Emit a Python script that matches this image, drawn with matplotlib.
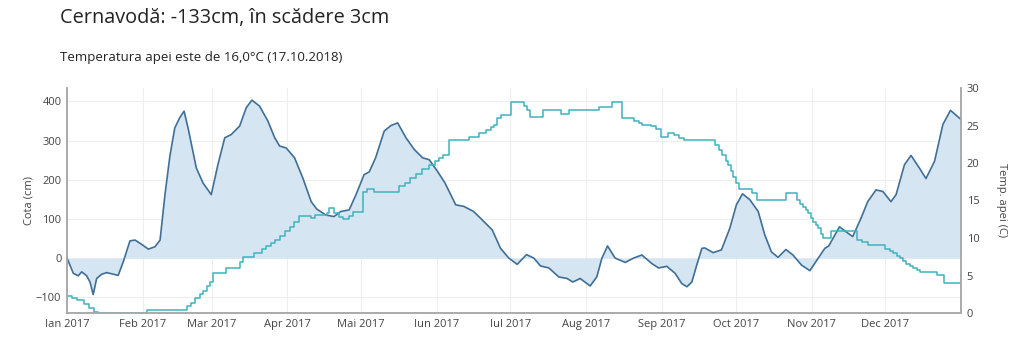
import pandas as pd
import matplotlib
matplotlib.use('Agg')
import matplotlib.pyplot as plt
import matplotlib.dates as mdates

plt.rcParams['font.family'] = ['Open Sans', 'DejaVu Sans']

# days since 1 Jan 2017 and water level (cm)
level_days = [0, 2.6, 4.6, 6, 8, 9.4, 10.7, 12.1, 14.2, 16.2, 18.9, 20.9, 23, 25.7, 27.8,
              30.5, 33.2, 35.9, 38, 40, 42, 44, 46, 47.8, 49.5, 52.8, 55.5, 58.9, 61.6,
              64.4, 67, 70.5, 73.2, 75.5, 78.6, 82, 84.8, 86.8, 89.5, 92.9, 96.3, 99.7,
              102, 105.7, 109, 111.8, 115.2, 118, 121.3, 123.4, 126, 129.5, 132.2, 135,
              138.4, 141.8, 145.2, 147.9, 151.3, 154.3, 158.7, 162, 166, 168.8, 173.6,
              177, 180.4, 183.8, 187.6, 190.6, 193.3, 196.7, 200.8, 204.2, 206.5, 209.5,
              213.6, 216.3, 218.4, 220.7, 223.8, 227.9, 231.3, 234.7, 238.8, 241.5,
              244.9, 248.3, 251, 253.1, 255.1, 257.1, 259.2, 260.4, 263.8, 267.2, 270.6,
              273.3, 275.8, 278.8, 282.2, 284.9, 287.6, 290.3, 293.5, 296.4, 299.9,
              303.3, 306.7, 309.4, 311, 315.4, 318.1, 320.8, 324.2, 326.9, 330.3, 333.1,
              336.4, 338.5, 341.9, 344.6, 348, 350.7, 354.2, 357.6, 360.7, 362.9, 365]
level_cm = [0, -39, -45, -35, -45, -61, -93, -52, -41, -37, -41, -44, -9, 44, 46,
            35, 23, 29, 46, 162, 260, 332, 358, 375, 330, 230, 192, 162, 238,
            307, 315, 337, 384, 403, 388, 350, 307, 286, 281, 256, 204, 144,
            125, 110, 106, 119, 123, 162, 213, 220, 256, 324, 338, 345,
            307, 277, 256, 251, 221, 192, 136, 132, 119, 102, 72,
            25, 0, -16, 9, 0, -20, -25, -48, -52, -61, -52,
            -71, -48, 0, 31, 0, -11, 0, 8, -14, -25,
            -21, -39, -65, -73, -61, -18, 25, 26, 14, 21, 76,
            136, 164, 149, 119, 59, 16, 2, 22, 8, -18,
            -32, 0, 25, 31, 80, 67, 55, 102, 144, 174, 170,
            144, 162, 238, 262, 230, 203, 247, 341, 377, 365, 354]

# water temperature (C), step changes
temp_days = [0, 2, 4, 7, 9, 11, 12.7, 32.7, 49, 50.6, 52.2, 54.3, 55.5, 57.1, 58.4, 59.6,
             64.9, 70.6, 71.8, 76.3, 79.6, 81.2, 83.3, 84.9, 86.9, 89, 91, 92.7, 94.7,
             99.6, 101.2, 106.1, 106.9, 109, 111, 112.7, 115.1, 116.7, 120.8, 122.4,
             125.3, 135.5, 138, 140, 142.4, 144.9, 147.8, 150.2, 151.8, 153.5, 155.9,
             164.1, 168.2, 171, 173.1, 174.3, 175.5, 177.1, 181.2, 186.5, 187.8, 189,
             194.3, 201.6, 204.9, 217.1, 222.4, 226.5, 231.4, 233.5, 234.7, 238.4,
             240.4, 242.4, 245.3, 247.8, 249.8, 251.8, 264.5, 266.1, 267.3, 269, 269.8,
             271, 271.8, 273, 274.3, 279.6, 281.6, 293.5, 298, 299.2, 300.4, 301.6,
             302.4, 303.7, 304.5, 305.7, 306.5, 307.8, 308.6, 311.8, 322.4, 324.5,
             326.9, 333.9, 335.9, 337.1, 338.8, 340, 341.2, 342.4, 344, 345.3, 346.9,
             348.2, 355.1, 358, 365]
temp_c = [2.3, 2.0, 1.7, 1.2, 0.7, 0.2, 0, 0.4, 0.9, 1.4, 2.0, 2.5, 3.0, 3.6, 4.2, 5.4,
          6.0, 6.8, 7.5, 8.0, 8.5, 8.9, 9.3, 9.7, 10.3, 10.9, 11.5, 12.2, 13.0,
          12.7, 13.1, 13.3, 14.0, 13.3, 12.8, 12.5, 13.0, 13.5, 16.2, 16.5,
          16.2, 17.0, 17.4, 18.0, 18.6, 19.2, 19.8, 20.3, 20.7, 21.1, 23.1,
          23.5, 24.0, 24.4, 24.8, 25.1, 26.0, 26.4, 28.1, 27.6, 27.1, 26.1,
          27.1, 26.5, 27.1, 27.5, 28.1, 26.0, 25.6, 25.3, 25.1, 24.9,
          24.5, 23.5, 24.0, 23.7, 23.4, 23.1, 22.4, 21.8, 21.1, 20.3, 19.7,
          18.9, 18.2, 17.3, 16.5, 16.0, 15.1, 16.0, 15.1, 14.6, 14.2, 13.7,
          13.3, 12.7, 12.2, 11.7, 11.3, 10.6, 10.0, 11.0, 9.7, 9.5,
          9.1, 8.6, 8.3, 8.0, 7.6, 7.3, 7.0, 6.6, 6.3, 6.0, 5.8,
          5.5, 5.1, 4.0, 4.0]

month_labels = ['Ian 2017', 'Feb 2017', 'Mar 2017', 'Apr 2017', 'Mai 2017', 'Iun 2017',
                'Iul 2017', 'Aug 2017', 'Sep 2017', 'Oct 2017', 'Nov 2017', 'Dec 2017']

start = pd.Timestamp('2017-01-01')
lvl_x = start + pd.to_timedelta(level_days, unit='D')
tmp_x = start + pd.to_timedelta(temp_days, unit='D')
month_ticks = pd.date_range('2017-01-01', periods=12, freq='MS')

fig = plt.figure(figsize=(10.24, 3.6), dpi=100)
ax = fig.add_axes([67 / 1024, 1 - 313 / 360, (961 - 67) / 1024, (313 - 88) / 360])
ax2 = ax.twinx()

ax.fill_between(lvl_x, level_cm, 0, color='#d5e5f2', lw=0, zorder=1)
ax.plot(lvl_x, level_cm, color='#3f6f97', lw=1.2, zorder=3)
ax2.step(tmp_x, temp_c, where='post', color='#3fb3bd', lw=1.1)

ax.set_xlim(start, pd.Timestamp('2018-01-01'))
ax.set_ylim(-140, 434)
ax2.set_ylim(0, 30)

ax.set_xticks(month_ticks)
ax.set_xticklabels(month_labels)
ax.set_yticks([-100, 0, 100, 200, 300, 400])
ax2.set_yticks([0, 5, 10, 15, 20, 25, 30])

ax.grid(True, color='#eeeeee', lw=0.8)
ax.set_axisbelow(True)

for a in (ax, ax2):
    a.tick_params(length=0, labelsize=8, colors='#444444', pad=4)
    a.spines['top'].set_visible(False)
    for s in ('left', 'right', 'bottom'):
        a.spines[s].set_color('#aaaaaa')
        a.spines[s].set_linewidth(1.2)

ax.set_ylabel('Cota (cm)', fontsize=8, color='#444444', labelpad=1)
ax2.set_ylabel('Temp. apei (C)', fontsize=8, color='#444444', rotation=270, labelpad=20)

fig.text(60 / 1024, 1 - 18 / 360, 'Cernavodă: -133cm, în scădere 3cm',
         fontsize=14.3, color='#222222', va='center', ha='left')
fig.text(60 / 1024, 1 - 57 / 360, 'Temperatura apei este de 16,0°C (17.10.2018)',
         fontsize=9.5, color='#222222', va='center', ha='left')

fig.savefig('out.png', dpi=100)
